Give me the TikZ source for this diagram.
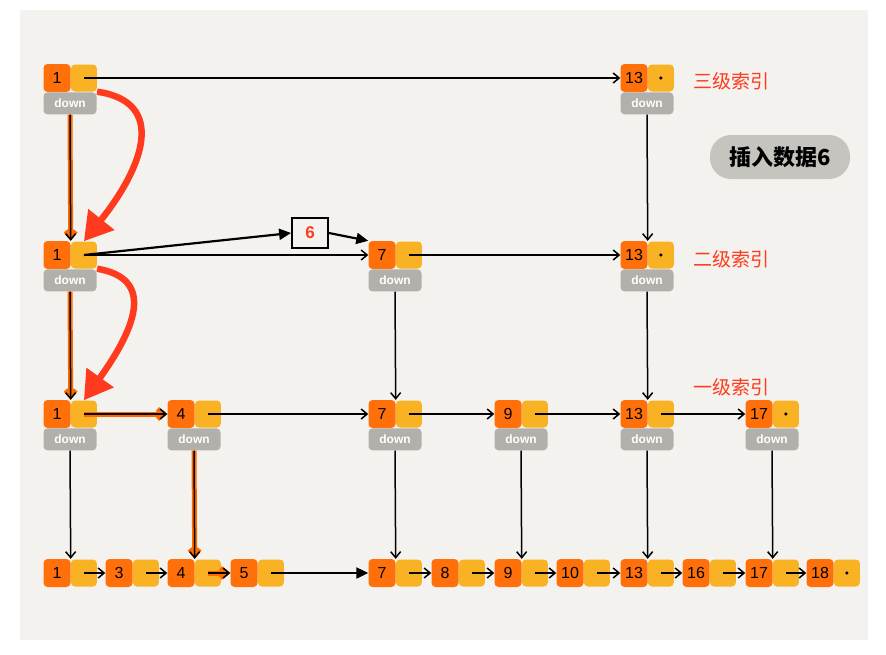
\documentclass[tikz,border=0pt]{standalone}
\usepackage{fontspec}
\setmainfont{Liberation Sans}
\newfontfamily\cjk{Noto Sans CJK SC}
\usetikzlibrary{arrows.meta,positioning}
\definecolor{slbg}{RGB}{243,242,238}
\definecolor{slkey}{RGB}{255,112,10}
\definecolor{slptr}{RGB}{248,178,35}
\definecolor{slgray}{RGB}{178,176,170}
\definecolor{slred}{RGB}{255,58,30}
\definecolor{slhl}{RGB}{255,105,0}
\definecolor{slpill}{RGB}{197,196,191}

\begin{document}
\begin{tikzpicture}[x=1pt, y=-1pt,
  key/.style={rectangle, rounded corners=4pt, fill=slkey, minimum width=27pt,
              minimum height=28pt, inner sep=0pt, font=\fontsize{16}{16}\selectfont},
  ptr/.style={rectangle, rounded corners=4pt, fill=slptr, minimum width=26pt,
              minimum height=27pt, inner sep=0pt},
  dwn/.style={rectangle, rounded corners=4pt, fill=slgray, minimum width=53pt,
              minimum height=22pt, inner sep=0pt, text=white,
              font=\fontsize{12}{12}\selectfont\bfseries},
  nxt/.style={-{Straight Barb[length=6pt,width=10pt]}, line width=1.5pt},
  hl/.style={nxt, preaction={draw=slhl, line width=5pt}},
  bold/.style={-{Triangle[length=12pt,width=11pt]}, line width=2.2pt},
  jump/.style={-{Triangle[length=28pt,width=32pt]}, line width=6.5pt, draw=slred},
  lvl/.style={font=\cjk\fontsize{19}{19}\selectfont, text=slred, anchor=west}
]
\useasboundingbox (0,0) rectangle (886,654);
\fill[white] (0,0) rectangle (886,654);
\fill[slbg] (20,10) rectangle (868,640);

% Level 3 index
\foreach \n/\x in {1/57,13/634} {
  \node[key] (l3k\n) at (\x,78) {\n};
  \node[ptr, right=0pt of l3k\n] (l3p\n) {};
  \node[dwn, anchor=north west] (l3d\n) at (l3k\n.south west) {down};
}
\fill (l3p13) circle (1.8pt);

% Level 2 index
\foreach \n/\x in {1/57,7/382,13/634} {
  \node[key] (l2k\n) at (\x,255) {\n};
  \node[ptr, right=0pt of l2k\n] (l2p\n) {};
  \node[dwn, anchor=north west] (l2d\n) at (l2k\n.south west) {down};
}
\fill (l2p13) circle (1.8pt);

% Level 1 index
\foreach \n/\x in {1/57,4/181,7/382,9/508,13/634,17/759} {
  \node[key] (l1k\n) at (\x,414) {\n};
  \node[ptr, right=0pt of l1k\n] (l1p\n) {};
  \node[dwn, anchor=north west] (l1d\n) at (l1k\n.south west) {down};
}
\fill (l1p17) circle (1.8pt);

% Original list
\foreach \n/\x in {1/57,3/119,4/181,5/244,7/382,8/445,9/508,10/570,13/634,16/696,17/759,18/820} {
  \node[key] (l0k\n) at (\x,573) {\n};
  \node[ptr, right=0pt of l0k\n] (l0p\n) {};
}
\fill (l0p18) circle (1.8pt);

% Labels
\node[lvl] (lab3) at (690,81) {三级索引};
\node[lvl] (lab2) at (690,259) {二级索引};
\node[lvl] (lab1) at (690,387) {一级索引};
\node[fill=slpill, rounded corners=21pt, minimum width=140pt, minimum height=44pt,
      font=\cjk\bfseries\fontsize{22}{22}\selectfont] (note) at (780,157) {插入数据6};
\node[draw, line width=1.8pt, minimum width=36pt, minimum height=30pt, text=slred,
      font=\bfseries\fontsize{17}{17}\selectfont] (six) at (310,233) {6};

% Level 3 links
\draw[nxt] (l3p1.center) -- (l3k13.west);
\draw[nxt] (l3d13.south) -- (l2k13.north east);

% Level 2 links
\draw[nxt] (l2p1.center) -- (l2k7.west);
\draw[bold] (l2p1.center) -- (six.west);
\draw[bold] (six.east) -- (l2k7.north west);
\draw[nxt] (l2p7.center) -- (l2k13.west);
\draw[nxt] (l2d7.south) -- (l1k7.north east);
\draw[nxt] (l2d13.south) -- (l1k13.north east);

% Level 1 links
\draw[hl] (l1p1.center) -- (l1k4.west);
\foreach \a/\b in {4/7,7/9,9/13,13/17}
  \draw[nxt] (l1p\a.center) -- (l1k\b.west);
\foreach \n in {1,7,9,13,17}
  \draw[nxt] (l1d\n.south) -- (l0k\n.north east);
\draw[hl] (l1d4.south) -- (l0k4.north east);

% Search path down the left column
\draw[hl] (l3d1.south) -- (l2k1.north east);
\draw[hl] (l2d1.south) -- (l1k1.north east);

% List links
\foreach \a/\b in {1/3,3/4,7/8,8/9,9/10,10/13,13/16,16/17,17/18}
  \draw[nxt] (l0p\a.center) -- (l0k\b.west);
\draw[hl] (l0p4.center) -- (l0k5.west);
\draw[bold] (l0p5.center) -- (l0k7.west);

% Red jumps
\draw[jump] (l3p1.south east) .. controls +(70,10) and +(60,-75) .. (l2p1.north);
\draw[jump] (l2p1.south east) .. controls +(60,10) and +(50,-70) .. (l1p1.north);
\end{tikzpicture}
\end{document}
